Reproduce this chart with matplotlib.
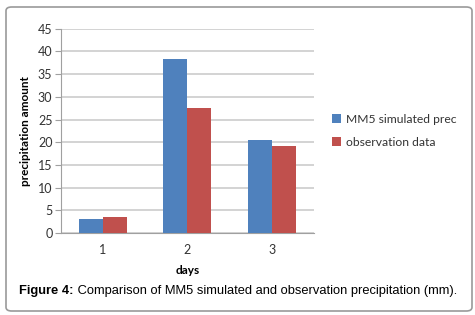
import numpy as np
import matplotlib.pyplot as plt
from matplotlib.patches import FancyBboxPatch

days = ['1', '2', '3']
mm5_prec = [3.1, 38.4, 20.5]
obs_prec = [3.6, 27.5, 19.2]
series_names = ['MM5 simulated prec', 'observation data']
yticks = [0, 5, 10, 15, 20, 25, 30, 35, 40, 45]

blue = '#4F81BD'
red = '#C0504D'
chart_font = ['Lato', 'DejaVu Sans']

fig = plt.figure(figsize=(4.75, 3.15), dpi=100)
fig.patch.set_facecolor('white')

# rounded frame round the whole figure
frame = FancyBboxPatch((6 / 475, 4 / 315), 466 / 475, 304 / 315,
                       boxstyle='round,pad=0,rounding_size=0.012',
                       transform=fig.transFigure, facecolor='none',
                       edgecolor='#9a9a9a', linewidth=1.2)
fig.patches.append(frame)

ax = fig.add_axes([0.128, 0.26, 0.533, 0.649])
x = np.arange(1, len(days) + 1)
w = 0.284
ax.bar(x - w / 2, mm5_prec, w, color=blue, label=series_names[0], zorder=3)
ax.bar(x + w / 2, obs_prec, w, color=red, label=series_names[1], zorder=3)

ax.set_xlim(0.5, 3.5)
ax.set_ylim(0, 45)
ax.set_yticks(yticks)
ax.set_xticks(x)
ax.set_xticklabels(days)
ax.yaxis.grid(True, color='#d0d0d0', linewidth=1.3, zorder=0)
for s in ['top', 'right']:
    ax.spines[s].set_visible(False)
ax.spines['left'].set_color('#a0a0a0')
ax.spines['bottom'].set_color('#a0a0a0')
ax.tick_params(axis='y', length=4, color='#a0a0a0', labelsize=9, pad=2)
ax.tick_params(axis='x', length=0, labelsize=9, pad=8)
for lab in ax.get_xticklabels() + ax.get_yticklabels():
    lab.set_family(chart_font)
    lab.set_color('#333333')

ax.set_ylabel('precipitation amount', fontsize=8.5, fontweight='bold',
              family=chart_font, labelpad=5)
ax.set_xlabel('days', fontsize=8.5, fontweight='bold', family=chart_font,
              labelpad=6)

leg = ax.legend(loc='center left', bbox_to_anchor=(1.03, 0.5), frameon=False,
                handlelength=0.7, handleheight=0.7, handletextpad=0.4,
                labelspacing=1.0, prop={'family': chart_font, 'size': 8.7})
for t in leg.get_texts():
    t.set_color('#333333')

# caption: bold part then the rest
t1 = fig.text(19 / 475, 1 - 294 / 315, 'Figure 4:', fontsize=9.3,
              fontweight='bold', family='Liberation Sans', va='baseline')
fig.canvas.draw()
bb = t1.get_window_extent()
fig.text(bb.x1 / fig.bbox.width, 1 - 294 / 315,
         ' Comparison of MM5 simulated and observation precipitation (mm).',
         fontsize=9.3, family='Liberation Sans', va='baseline')

fig.savefig('out.png', dpi=100)
